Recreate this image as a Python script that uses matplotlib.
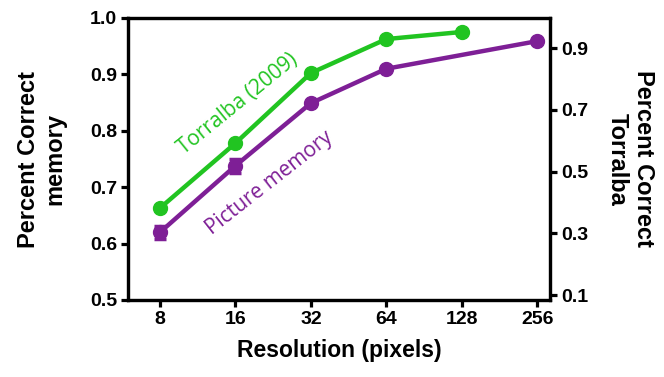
import numpy as np
import matplotlib
matplotlib.use("Agg")
import matplotlib.pyplot as plt

# Data
resolution = [8, 16, 32, 64, 128, 256]
memory_res = [8, 16, 32, 64, 256]
memory_pct = [0.62, 0.738, 0.849, 0.910, 0.959]
memory_err = [0.011, 0.012, 0.0, 0.0, 0.0]
torralba_res = [8, 16, 32, 64, 128]
torralba_pct = [0.382, 0.592, 0.819, 0.929, 0.952]
left_ticks = [0.5, 0.6, 0.7, 0.8, 0.9, 1.0]
right_ticks = [0.1, 0.3, 0.5, 0.7, 0.9]

GREEN = "#21c421"
PURPLE = "#7e1f96"

plt.rcParams["font.family"] = ["Liberation Sans", "DejaVu Sans"]

fig = plt.figure(figsize=(6.64, 3.77), dpi=100)
ax = fig.add_axes([128 / 664, 1 - 300 / 377, (550 - 128) / 664, (300 - 18) / 377])
ax2 = ax.twinx()

ax.set_xscale("log", base=2)
ax.set_xlim(2 ** 2.576, 2 ** 8.17)
ax.set_ylim(0.5, 1.0)
ax2.set_ylim(0.0843, 0.9972)

ax.errorbar(memory_res, memory_pct, yerr=memory_err, color=PURPLE, lw=3.2,
            marker="o", ms=10, capsize=4, capthick=2.5, elinewidth=2.5, zorder=3)
ax2.plot(torralba_res, torralba_pct, color=GREEN, lw=3.2, marker="o", ms=10, zorder=3)

ax.set_xticks(resolution)
ax.set_xticklabels([str(r) for r in resolution])
ax.xaxis.set_minor_locator(matplotlib.ticker.NullLocator())
ax.set_yticks(left_ticks)
ax.set_yticklabels([f"{t:.1f}" for t in left_ticks])
ax2.set_yticks(right_ticks)
ax2.set_yticklabels([f"{t:.1f}" for t in right_ticks])

for a in (ax, ax2):
    for s in a.spines.values():
        s.set_linewidth(2.3)
    a.tick_params(width=2.3, length=5, labelsize=14, pad=3)
    for lab in a.get_xticklabels() + a.get_yticklabels():
        lab.set_fontweight("bold")

ax.set_xlabel("Resolution (pixels)", fontsize=16.5, fontweight="bold", labelpad=8)
ax.set_ylabel("Percent Correct\nmemory", fontsize=17, fontweight="bold", labelpad=17,
              linespacing=1.2)
ax2.set_ylabel("Percent Correct\nTorralba", fontsize=17, fontweight="bold", rotation=270,
               labelpad=48, linespacing=1.2)

ax.text(0.14, 0.50, "Torralba (2009)", transform=ax.transAxes, color=GREEN,
        fontsize=15, rotation=39, family=["Open Sans", "DejaVu Sans"],
        ha="left", va="bottom", rotation_mode="anchor")
ax.text(0.205, 0.215, "Picture memory", transform=ax.transAxes, color=PURPLE,
        fontsize=15, rotation=38, family=["Open Sans", "DejaVu Sans"],
        ha="left", va="bottom", rotation_mode="anchor")

fig.savefig("out.png", dpi=100)
